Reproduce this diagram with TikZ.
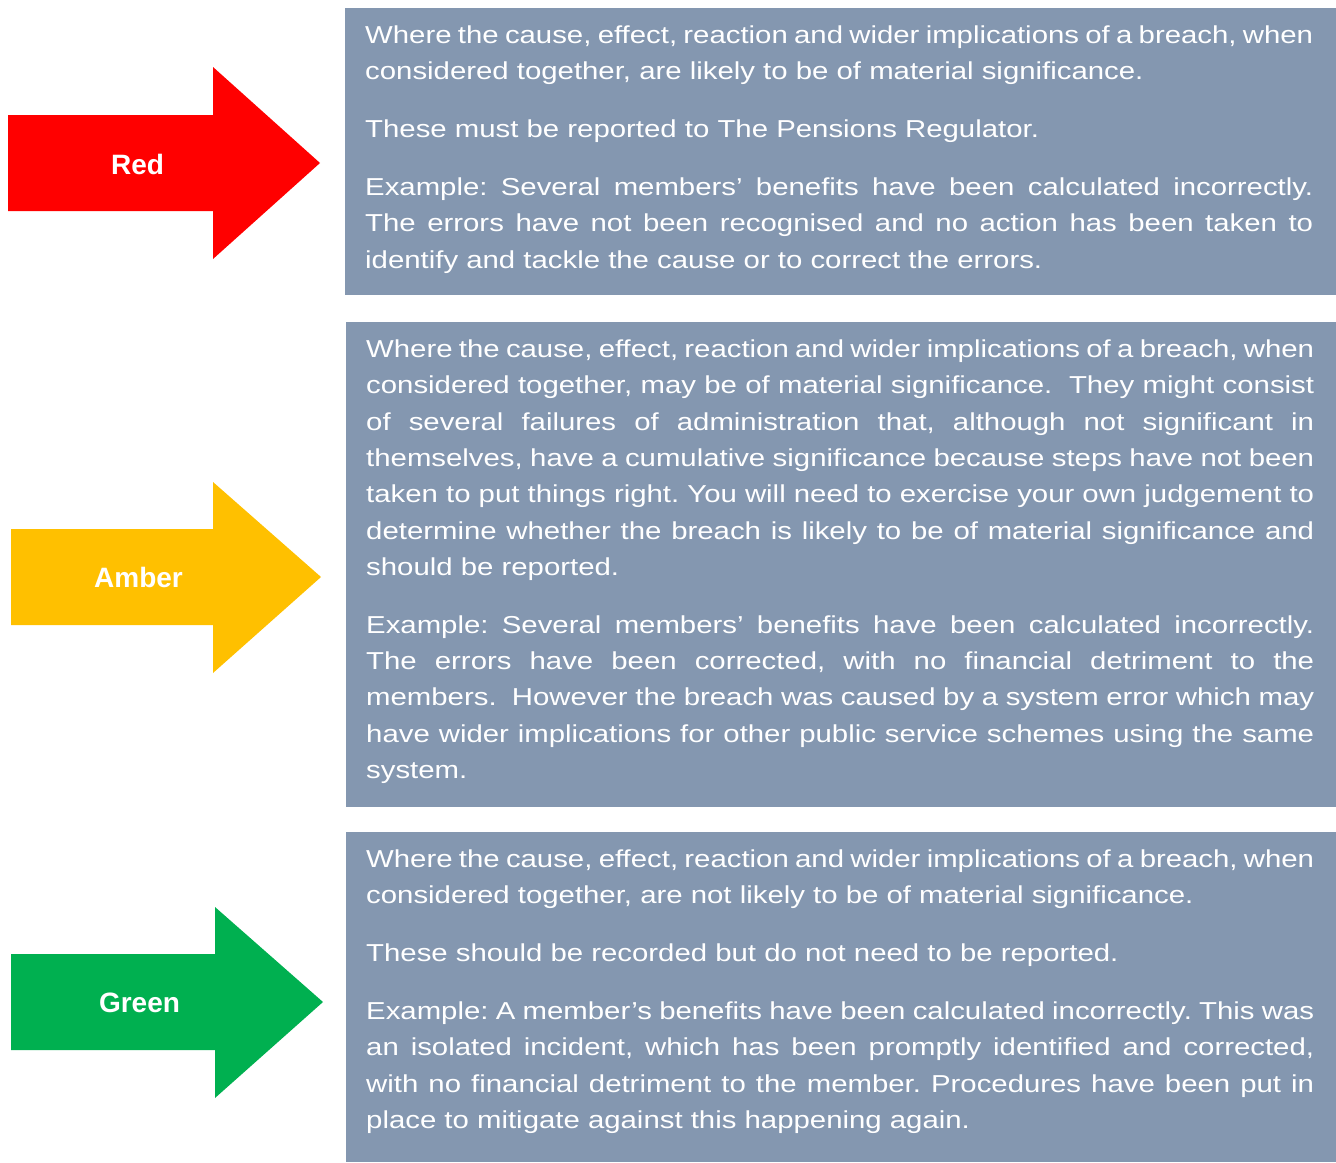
\documentclass[tikz,border=0pt]{standalone}
\usepackage{fontspec}
\setmainfont{Liberation Sans}
\newfontfamily\bodyfont[FakeStretch=1.198]{Liberation Sans}
\definecolor{boxgray}{HTML}{8497B0}
\definecolor{arrred}{HTML}{FF0000}
\definecolor{arramber}{HTML}{FFC000}
\definecolor{arrgreen}{HTML}{00B050}
\begin{document}
\begin{tikzpicture}[x=1pt,y=-1pt,
  panel/.style={fill=boxgray},
  bodytext/.style={anchor=north west, inner sep=0pt, text width=948pt, align=justify,
    text=white, font=\bodyfont\fontsize{24.5}{36.3}\selectfont},
  lbl/.style={anchor=base, inner sep=0pt, text=white, font=\bfseries\fontsize{28}{32}\selectfont}]
\useasboundingbox (0,0) rectangle (1336,1162);
% arrows
\fill[arrred] (8,115) -- (213,115) -- (213,67) -- (320,163) -- (213,259) -- (213,211) -- (8,211) -- cycle;
\fill[arramber] (11,529) -- (213,529) -- (213,482) -- (321,577) -- (213,673) -- (213,625) -- (11,625) -- cycle;
\fill[arrgreen] (11,954) -- (215,954) -- (215,907) -- (323,1002) -- (215,1098) -- (215,1050) -- (11,1050) -- cycle;
\node[lbl] (lred) at (137.5,174) {Red};
\node[lbl] (lamber) at (138.5,587) {Amber};
\node[lbl] (lgreen) at (139.5,1012) {Green};
% panels
\fill[panel] (345,8) rectangle (1336,295);
\fill[panel] (346,322) rectangle (1336,807);
\fill[panel] (346,832) rectangle (1336,1162);
% texts
\node[bodytext] (tred) at (365,17.6) {\frenchspacing\hyphenpenalty=10000\tolerance=10000\parindent=0pt\setlength{\parskip}{21.7pt}%
\strut Where the cause, effect, reaction and wider implications of a breach, when\linebreak
considered together, are likely to be of material significance.\par
These must be reported to The Pensions Regulator.\par
Example: Several members’ benefits have been calculated incorrectly.\linebreak
The errors have not been recognised and no action has been taken to\linebreak
identify and tackle the cause or to correct the errors.};
\node[bodytext] (tamber) at (366,331.9) {\frenchspacing\hyphenpenalty=10000\tolerance=10000\parindent=0pt\setlength{\parskip}{21.7pt}%
\strut Where the cause, effect, reaction and wider implications of a breach, when\linebreak
considered together, may be of material significance.\ \ They might consist\linebreak
of several failures of administration that, although not significant in\linebreak
themselves, have a cumulative significance because steps have not been\linebreak
taken to put things right. You will need to exercise your own judgement to\linebreak
determine whether the breach is likely to be of material significance and\linebreak
should be reported.\par
Example: Several members’ benefits have been calculated incorrectly.\linebreak
The errors have been corrected, with no financial detriment to the\linebreak
members.\ \ However the breach was caused by a system error which may\linebreak
have wider implications for other public service schemes using the same\linebreak
system.};
\node[bodytext] (tgreen) at (366,841.6) {\frenchspacing\hyphenpenalty=10000\tolerance=10000\parindent=0pt\setlength{\parskip}{21.7pt}%
\strut Where the cause, effect, reaction and wider implications of a breach, when\linebreak
considered together, are not likely to be of material significance.\par
These should be recorded but do not need to be reported.\par
Example: A member’s benefits have been calculated incorrectly. This was\linebreak
an isolated incident, which has been promptly identified and corrected,\linebreak
with no financial detriment to the member. Procedures have been put in\linebreak
place to mitigate against this happening again.};
\end{tikzpicture}
\end{document}
